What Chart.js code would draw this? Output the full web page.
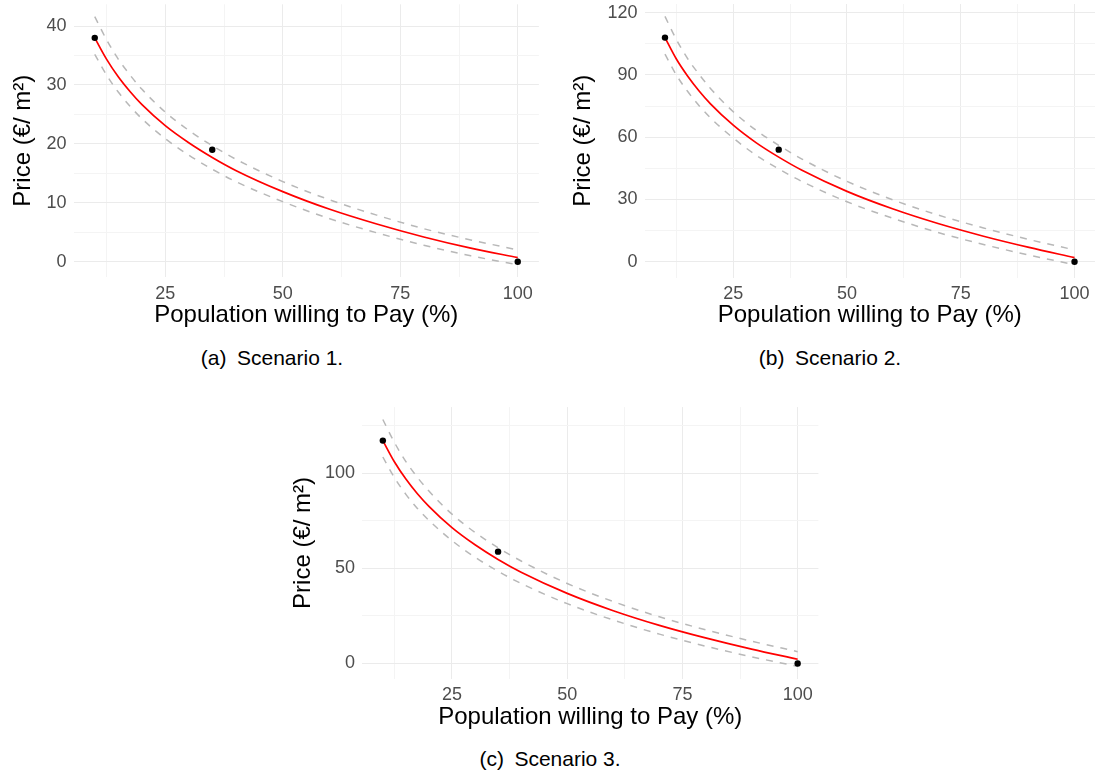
<!DOCTYPE html>
<html>
<head>
<meta charset="utf-8">
<script src="https://cdn.jsdelivr.net/npm/chart.js@4.4.1/dist/chart.umd.min.js"></script>
<style>
  body { margin: 0; background: #fff; width: 1099px; height: 776px; position: relative; overflow: hidden;
         font-family: "Liberation Sans", Arial, sans-serif; }
  .panel { position: absolute; }
  .cap { position: absolute; font-size: 21px; color: #000; transform: translate(-50%, -50%); white-space: nowrap; }
</style>
</head>
<body>
<div class="panel" style="left:0;top:0"><canvas id="chartA" width="545" height="330"></canvas></div>
<div class="panel" style="left:560px;top:0"><canvas id="chartB" width="539" height="330"></canvas></div>
<div class="panel" style="left:280px;top:400px"><canvas id="chartC" width="545" height="332"></canvas></div>
<div class="cap" style="left:272px;top:358px">(a)&ensp;Scenario 1.</div>
<div class="cap" style="left:830px;top:358px">(b)&ensp;Scenario 2.</div>
<div class="cap" style="left:550px;top:759px">(c)&ensp;Scenario 3.</div>
<script>
// fitted curve and dashed band at these x values
const xFit = [10, 12.5, 15, 17.5, 20, 25, 30, 35, 40, 50, 60, 70, 80, 90, 100];

const fitA   = [38.0, 34.4, 31.4, 28.9, 26.7, 23.1, 20.2, 17.7, 15.5, 11.9, 8.9, 6.4, 4.2, 2.3, 0.7];
const upperA = [41.6, 37.7, 34.4, 31.7, 29.3, 25.4, 22.3, 19.7, 17.4, 13.6, 10.5, 7.9, 5.6, 3.7, 2.0];
const lowerA = [35.2, 31.7, 28.8, 26.4, 24.3, 20.9, 18.1, 15.7, 13.6, 10.2, 7.3, 4.9, 2.8, 1.0, -0.5];

const fitB   = [108.0, 97.7, 89.4, 82.3, 76.1, 65.8, 57.4, 50.4, 44.2, 33.9, 25.5, 18.4, 12.3, 6.9, 2.0];
const upperB = [118.2, 107.1, 97.8, 90.3, 83.5, 72.3, 63.4, 56.1, 49.6, 38.7, 29.9, 22.5, 16.3, 10.7, 5.7];
const lowerB = [100.0, 90.0, 82.0, 75.2, 69.3, 59.6, 51.4, 44.7, 38.8, 28.9, 21.0, 14.1, 8.3, 3.2, -1.4];

const fitC   = [117.0, 105.9, 96.8, 89.1, 82.5, 71.3, 62.3, 54.6, 47.9, 36.8, 27.7, 20.0, 13.4, 7.5, 2.2];
const upperC = [128.1, 116.1, 106.0, 97.7, 90.5, 78.4, 68.8, 60.8, 53.8, 42.0, 32.5, 24.5, 17.7, 11.7, 6.2];
const lowerC = [108.4, 97.6, 88.8, 81.4, 75.1, 64.5, 55.8, 48.4, 42.0, 31.4, 22.8, 15.4, 9.1, 3.5, -1.5];

// observed points
const obsX = [10, 35, 100];
const obsA = [38, 19, 0];
const obsB = [108, 54, 0];
const obsC = [117, 58.7, 0];

// ticks (labelled) and minor grid lines
const xMajor = [25, 50, 75, 100];
const xMinor = [12.5, 37.5, 62.5, 87.5];
const yMajorA = [0, 10, 20, 30, 40];
const yMinorA = [5, 15, 25, 35];
const yMajorB = [0, 30, 60, 90, 120];
const yMinorB = [15, 45, 75, 105];
const yMajorC = [0, 50, 100];
const yMinorC = [25, 75, 125];

const xRange = [5.5, 104.5];
const yRangeA = [-2.6, 43.7];
const yRangeB = [-7.6, 124.2];
const yRangeC = [-8.0, 134.6];

const FONT = '"Liberation Sans", Arial, sans-serif';

function pts(xs, ys) {
  return xs.map((x, i) => ({ x: x, y: ys[i] }));
}

function has(list, v) {
  return list.some(m => Math.abs(m - v) < 1e-9);
}

function axisTicks(major, minor) {
  return s => {
    s.ticks = minor.concat(major).sort((a, b) => a - b).map(v => ({ value: v }));
  };
}

function gridColor(major) {
  return c => (c.tick && has(major, c.tick.value)) ? '#EBEBEB' : '#F4F4F4';
}

// keep the plot area where we put it: no extra room for edge labels
function noPad(s) {
  s.paddingTop = 0; s.paddingBottom = 0; s.paddingLeft = 0; s.paddingRight = 0;
}

function makeChart(id, o) {
  const band = {
    showLine: true, borderColor: '#B8B8B8', borderWidth: 1.5, borderDash: [7, 7],
    pointRadius: 0, cubicInterpolationMode: 'monotone', order: 1
  };
  return new Chart(document.getElementById(id), {
    type: 'scatter',
    data: {
      datasets: [
        { data: pts(obsX, o.obs), pointRadius: 3.2, pointBackgroundColor: '#000', pointBorderWidth: 0, order: 0 },
        Object.assign({ data: pts(xFit, o.upper) }, band),
        Object.assign({ data: pts(xFit, o.lower) }, band),
        { data: pts(xFit, o.fit), showLine: true, borderColor: '#FF0000', borderWidth: 1.7,
          pointRadius: 0, cubicInterpolationMode: 'monotone', order: 2 }
      ]
    },
    options: {
      responsive: false,
      animation: false,
      layout: { padding: o.pad },
      plugins: { legend: { display: false }, tooltip: { enabled: false } },
      scales: {
        x: {
          type: 'linear', min: xRange[0], max: xRange[1],
          afterBuildTicks: axisTicks(xMajor, xMinor),
          afterFit: s => { s.height = o.xh; noPad(s); },
          grid: { color: gridColor(xMajor), lineWidth: 1, drawTicks: false },
          border: { display: false },
          ticks: {
            autoSkip: false, maxRotation: 0, padding: 6, color: '#4D4D4D',
            font: { size: 18, family: FONT },
            callback: v => has(xMajor, v) ? String(v) : ''
          },
          title: {
            display: true, text: 'Population willing to Pay (%)', color: '#000',
            font: { size: 24, family: FONT }, padding: { top: 0, bottom: o.xtb }
          }
        },
        y: {
          type: 'linear', min: o.yRange[0], max: o.yRange[1],
          afterBuildTicks: axisTicks(o.yMajor, o.yMinor),
          afterFit: s => { s.width = o.yw; noPad(s); },
          grid: { color: gridColor(o.yMajor), lineWidth: 1, drawTicks: false },
          border: { display: false },
          ticks: {
            autoSkip: false, padding: 7, color: '#4D4D4D',
            font: { size: 18, family: FONT },
            callback: v => has(o.yMajor, v) ? String(v) : ''
          },
          title: {
            display: true, text: 'Price (€/ m²)', color: '#000',
            font: { size: 24, family: FONT }, padding: { top: 9, bottom: 0 }
          }
        }
      }
    }
  });
}

makeChart('chartA', {
  fit: fitA, upper: upperA, lower: lowerA, obs: obsA,
  yMajor: yMajorA, yMinor: yMinorA, yRange: yRangeA,
  pad: { left: 0, top: 4.3, right: 6.1, bottom: 0 }, yw: 73.6, xh: 53, xtb: 0
});

makeChart('chartB', {
  fit: fitB, upper: upperB, lower: lowerB, obs: obsB,
  yMajor: yMajorB, yMinor: yMinorB, yRange: yRangeB,
  pad: { left: 0, top: 4.0, right: 1.1, bottom: 0 }, yw: 84.5, xh: 52.5, xtb: 0
});

makeChart('chartC', {
  fit: fitC, upper: upperC, lower: lowerC, obs: obsC,
  yMajor: yMajorC, yMinor: yMinorC, yRange: yRangeC,
  pad: { left: 0, top: 7.1, right: 6.6, bottom: 0 }, yw: 82.1, xh: 53.3, xtb: 0
});
</script>
</body>
</html>
